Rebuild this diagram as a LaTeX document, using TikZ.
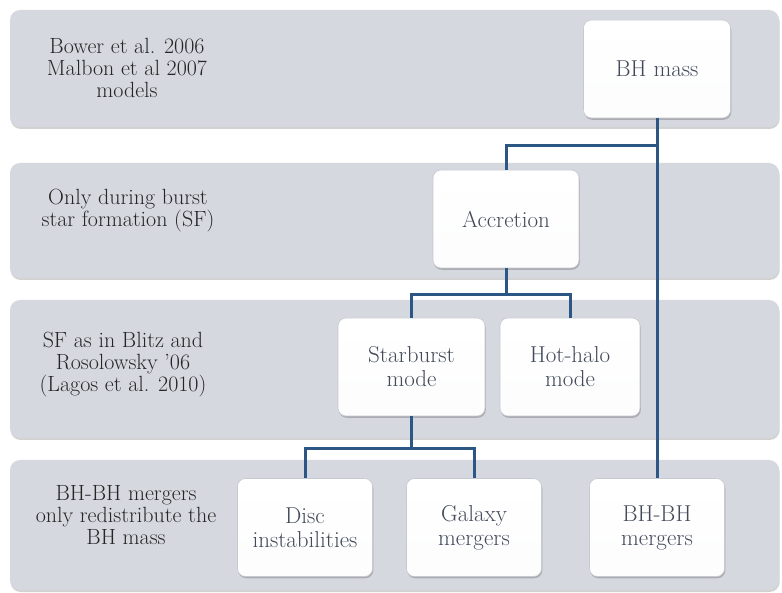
\documentclass[tikz,border=0pt]{standalone}
\usetikzlibrary{shadows,calc}
\definecolor{bandfill}{RGB}{213,216,223}
\definecolor{boxline}{RGB}{198,201,208}
\definecolor{conncol}{RGB}{44,86,132}
\definecolor{labcol}{RGB}{38,38,38}
\definecolor{boxtxt}{RGB}{66,74,90}
\tikzset{
  band/.style={fill=bandfill, draw=none, rounded corners=10pt,
    drop shadow={shadow xshift=0.6pt, shadow yshift=-2pt, opacity=0.25, fill=black!70}},
  nodebox/.style={draw=boxline, line width=0.6pt, rounded corners=8pt,
    top color=white, bottom color=white!94!bandfill,
    minimum width=#1, minimum height=98pt, inner sep=0pt,
    align=center, text=boxtxt, font=\fontsize{23}{24}\selectfont,
    drop shadow={shadow xshift=0.8pt, shadow yshift=-1.8pt, opacity=0.3, fill=black!70}},
  nodebox/.default=146pt,
  lab/.style={align=center, text=labcol, font=\fontsize{22}{22}\selectfont, inner sep=0pt},
  conn/.style={draw=conncol, line width=3pt}
}
\begin{document}
\begin{tikzpicture}[x=1pt,y=1pt]
\useasboundingbox (0,0) rectangle (782,592);
% bands
\path[band] (10,465) rectangle (779,582);
\path[band] (10,314) rectangle (779,429);
\path[band] (10,154) rectangle (779,292);
\path[band] (10,2) rectangle (779,132);
% labels
\node[lab] (l1) at (127,524) {Bower et al. 2006\\Malbon et al 2007\\models};
\node[lab] (l2) at (128,381) {Only during burst\\star formation (SF)};
\node[lab] (l3) at (123,227) {SF as in Blitz and\\Rosolowsky '06\\(Lagos et al. 2010)};
\node[lab] (l4) at (126,77) {BH-BH mergers\\only redistribute the\\BH mass};
% boxes
\node[nodebox=147pt] (bhm) at (657,523) {BH mass};
\node[nodebox=146pt] (acc) at (506,373) {Accretion};
\node[nodebox=147pt] (sb) at (411.5,225) {Starburst\\mode};
\node[nodebox=140pt] (hh) at (570,225) {Hot-halo\\mode};
\node[nodebox=135pt] (di) at (305,64.5) {Disc\\instabilities};
\node[nodebox=135pt] (gm) at (474,64.5) {Galaxy\\mergers};
\node[nodebox=135pt] (bb) at (657,64.5) {BH-BH\\mergers};
% junction levels
\coordinate (j1) at (0,446);
\coordinate (j2) at (0,297);
\coordinate (j3) at (0,143);
% connectors
\draw[conn] (bhm.south) -- (bb.north);
\draw[conn] (bhm.south |- j1) -| (acc.north);
\draw[conn] (acc.south) -- (acc.south |- j2);
\draw[conn] (sb.north) |- (acc.south |- j2) -| (hh.north);
\draw[conn] (sb.south) -- (sb.south |- j3);
\draw[conn] (di.north) |- (sb.south |- j3) -| (gm.north);
\end{tikzpicture}
\end{document}
